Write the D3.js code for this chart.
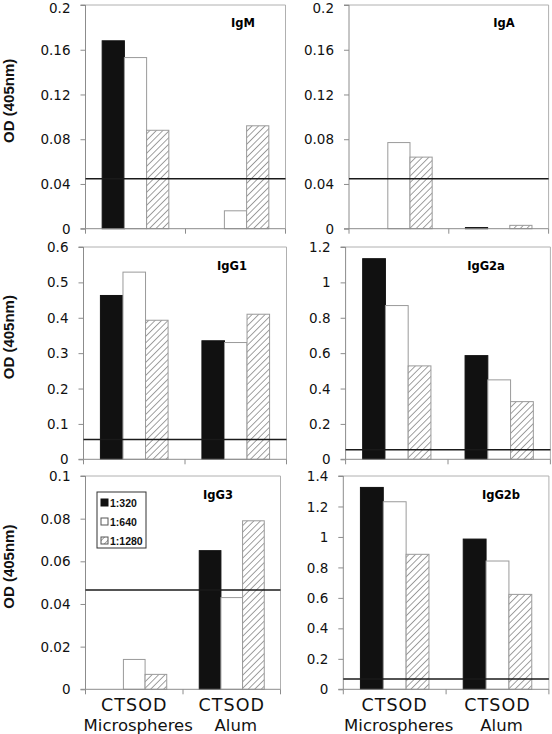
<!DOCTYPE html>
<html><head><meta charset="utf-8">
<script src="https://cdn.jsdelivr.net/npm/d3@7"></script>
<style>body{margin:0;background:#fff}svg{display:block}</style>
</head><body><svg id="c" width="552" height="734"></svg>
<script>
// ---------- data ----------
const catLine1 = ["CTSOD", "CTSOD"];
const catLine2 = ["Microspheres", "Alum"];
const dilutions = ["1:320", "1:640", "1:1280"];
const panelTitles = ["IgM", "IgA", "IgG1", "IgG2a", "IgG3", "IgG2b"];
// values[category][dilution]
const igM   = [[0.168, 0.153, 0.088], [0.000, 0.016, 0.092]];
const igA   = [[0.000, 0.077, 0.064], [0.001, 0.000, 0.003]];
const igG1  = [[0.463, 0.529, 0.393], [0.335, 0.330, 0.410]];
const igG2a = [[1.134, 0.869, 0.528], [0.586, 0.449, 0.326]];
const igG3  = [[0.000, 0.014, 0.007], [0.065, 0.043, 0.079]];
const igG2b = [[1.325, 1.231, 0.886], [0.986, 0.842, 0.623]];
const cutoffs = [0.0446, 0.0446, 0.056, 0.054, 0.0466, 0.0676];
const yMax  = [0.2, 0.2, 0.6, 1.2, 0.1, 1.4];
const yStep = [0.04, 0.04, 0.1, 0.2, 0.02, 0.2];
const yTitle = "OD (405nm)";

// ---------- layout ----------
const panelValues = [igM, igA, igG1, igG2a, igG3, igG2b];
const boxes = [ // x0, x1, yTop, yBottom
  [85.5, 285.5, 5, 228.7], [349, 548.6, 5, 228.7],
  [83.5, 286.5, 247, 459.3], [345.6, 550.4, 247, 459.3],
  [85.5, 280.5, 476, 689.3], [343.3, 548.9, 476, 689.3]];
const titlePos = [[243, 27], [504, 27], [232, 270], [486, 270], [218, 499], [501, 499]];

const svg = d3.select("#c");
const defs = svg.append("defs");
const pat = defs.append("pattern").attr("id", "hatch").attr("patternUnits", "userSpaceOnUse")
  .attr("width", 4.6).attr("height", 4.6).attr("patternTransform", "rotate(45)");
pat.append("rect").attr("width", 4.6).attr("height", 4.6).attr("fill", "#fff");
pat.append("line").attr("x1", 0).attr("y1", 0).attr("x2", 0).attr("y2", 4.6)
  .attr("stroke", "#8a8a8a").attr("stroke-width", 1.6);

const fills = ["#111", "#fff", "url(#hatch)"];
const strokes = ["#111", "#9a9a9a", "#9a9a9a"];

panelValues.forEach((vals, i) => {
  const [x0, x1, yT, yB] = boxes[i];
  const g = svg.append("g");
  const x = d3.scaleBand().domain(d3.range(catLine1.length)).range([x0, x1]).padding(0);
  const xi = d3.scaleBand().domain(dilutions).range([0, x.bandwidth()]).paddingInner(0).paddingOuter(0.75);
  const y = d3.scaleLinear().domain([0, yMax[i]]).range([yB, yT]);
  const ticks = d3.range(0, yMax[i] + yStep[i] / 2, yStep[i]);

  // plot border (top/right)
  g.append("path").attr("d", `M${x0},${yT}H${x1}V${yB}`).attr("fill", "none")
    .attr("stroke", "#b0b0b0").attr("stroke-width", 1);

  // bars
  vals.forEach((row, ci) => {
    g.selectAll(null).data(row.map((v, di) => ({v, di}))).join("rect")
      .filter(d => d.v > 0)
      .attr("x", d => x(ci) + xi(dilutions[d.di]))
      .attr("y", d => y(d.v))
      .attr("width", xi.bandwidth())
      .attr("height", d => Math.max(1, y(0) - y(d.v)))
      .attr("fill", d => fills[d.di])
      .attr("stroke", d => strokes[d.di]).attr("stroke-width", 1);
  });

  // y axis
  const ya = d3.axisLeft(y).tickValues(ticks).tickSize(5).tickPadding(10)
    .tickFormat(d => d === 0 ? "0" : String(+d.toFixed(2)));
  const ag = g.append("g").attr("transform", `translate(${x0},0)`).call(ya);
  ag.select(".domain").attr("stroke", "#8c8c8c").attr("d", `M-5,${yT}H0V${yB}H-5`);
  ag.selectAll(".tick line").attr("stroke", "#8c8c8c");
  ag.selectAll(".tick text").attr("font-family", "DejaVu Sans").attr("font-size", 13.5).attr("fill", "#111")
    .attr("dy", d => (y(d) < 8 ? (8 - y(d)) + 4.6 : 4.6) + "px");

  // x axis
  const xa = g.append("g");
  xa.append("line").attr("x1", x0).attr("x2", x1).attr("y1", yB).attr("y2", yB).attr("stroke", "#8c8c8c");
  xa.selectAll(null).data([x0, x0 + x.bandwidth(), x1]).join("line")
    .attr("x1", d => d).attr("x2", d => d).attr("y1", yB).attr("y2", yB + 5).attr("stroke", "#8c8c8c");

  // cutoff line
  g.append("line").attr("x1", x0).attr("x2", x1).attr("y1", y(cutoffs[i])).attr("y2", y(cutoffs[i]))
    .attr("stroke", "#1a1a1a").attr("stroke-width", 1.5);

  // title
  g.append("text").attr("x", titlePos[i][0]).attr("y", titlePos[i][1]).attr("text-anchor", "middle")
    .attr("font-family", "DejaVu Sans").attr("font-weight", "bold").attr("font-size", 11.5).text(panelTitles[i]);

  // y title (left column)
  if (i % 2 === 0) {
    const cy = (yT + yB) / 2 - 16;
    g.append("text").attr("transform", `translate(14,${cy}) rotate(-90)`).attr("text-anchor", "middle")
      .attr("font-family", "Liberation Sans, Arial").attr("font-weight", "bold").attr("font-size", 15)
      .attr("fill", "#111").text(yTitle);
  }

  // category labels (bottom row)
  if (i >= 4) {
    catLine1.forEach((c, ci) => {
      const cx = x(ci) + x.bandwidth() / 2;
      g.append("text").attr("x", cx).attr("y", 711).attr("text-anchor", "middle")
        .attr("font-family", "DejaVu Sans").attr("font-size", 17.5).attr("letter-spacing", 1)
        .attr("fill", "#111").text(c);
      g.append("text").attr("x", cx + 4).attr("y", 731).attr("text-anchor", "middle")
        .attr("font-family", "DejaVu Sans").attr("font-size", 16.5).attr("fill", "#111").text(catLine2[ci]);
    });
  }
});

// legend (in IgG3 panel)
const lg = svg.append("g").attr("transform", "translate(97,492)");
lg.append("rect").attr("width", 49).attr("height", 56).attr("fill", "#fff").attr("stroke", "#333");
dilutions.forEach((d, k) => {
  const yy = 10.5 + k * 19;
  lg.append("rect").attr("x", 4).attr("y", yy - 3.5).attr("width", 7).attr("height", 7)
    .attr("fill", fills[k]).attr("stroke", k === 0 ? "#111" : "#555");
  lg.append("text").attr("x", 13).attr("y", yy + 4).attr("font-family", "Liberation Sans, Arial")
    .attr("font-weight", "bold").attr("font-size", 10.5).attr("fill", "#111").text(d);
});
</script></body></html>
